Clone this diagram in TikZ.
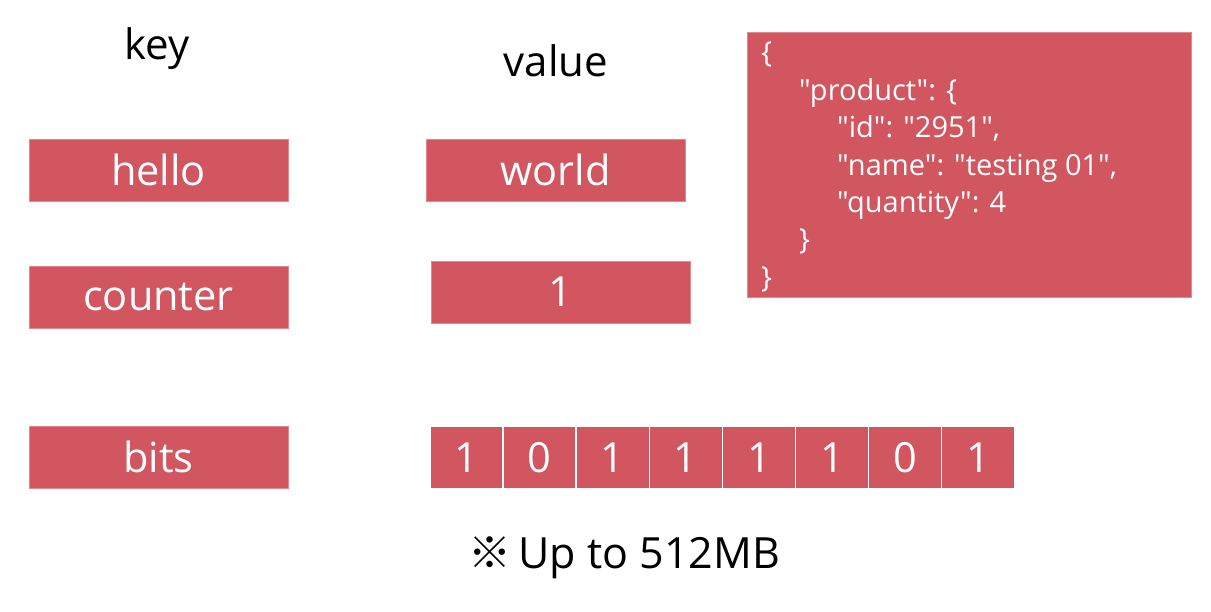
\documentclass[tikz,border=0pt]{standalone}
\usepackage{fontspec}
\setmainfont{Open Sans}
\newfontfamily\jsonfont{Open Sans}[Ligatures=TeXOff]
\newfontfamily\symfont{Noto Sans CJK JP}
\definecolor{boxred}{HTML}{D1565F}
\begin{document}
\begin{tikzpicture}[x=1pt,y=-1pt,
  redbox/.style={fill=boxred,draw=boxred!70!white,line width=0.8pt,text=white,inner sep=0pt,
    minimum width=259pt,minimum height=62pt,font=\fontsize{41.5}{48}\selectfont},
  bitcell/.style={fill=boxred,draw=white,line width=1.5pt,text=white,inner sep=0pt,
    minimum width=73.1pt,minimum height=62pt,font=\fontsize{41.5}{48}\selectfont},
  heading/.style={inner sep=0pt,font=\fontsize{42}{48}\selectfont},
  jsontext/.style={text=white,inner sep=0pt,align=left,anchor=north west,
    font=\jsonfont\fontsize{29}{37.4}\selectfont}]
\useasboundingbox (0,0) rectangle (1211,612);

% column headings
\node[heading] (key) at (157,49) {key};
\node[heading] (value) at (556,61) {value};

% keys
\node[redbox] (hello) at (158.5,170) {hello};
\node[redbox] (counter) at (158.5,297) {counter};
\node[redbox] (bits) at (158.5,457) {bits};

% values
\node[redbox] (world) at (555.5,170) {world};
\node[redbox] (one) at (560.5,292) {1};

% JSON document value
\node[fill=boxred,draw=boxred!70!white,line width=0.8pt,minimum width=444pt,minimum height=265pt,inner sep=0pt]
  (json) at (969,164.5) {};
\node[jsontext] (jsonbody) at (761,42) {%
{\char`\{}\\
\hspace*{38pt}"product": {\char`\{}\\
\hspace*{76pt}"id": "2951",\\
\hspace*{76pt}"name": "testing 01",\\
\hspace*{76pt}"quantity": 4\\
\hspace*{38pt}{\char`\}}\\
{\char`\}}};

% bit array
\foreach \b [count=\i] in {1,0,1,1,1,1,0,1}
  \node[bitcell] (b\i) at ({430+73.1*(\i-0.5)},457.5) {\b};

% size note
\node[inner sep=0pt,font=\fontsize{43}{50}\selectfont] (note) at (624,558)
  {{\symfont ※}\,Up to 512MB};
\end{tikzpicture}
\end{document}
